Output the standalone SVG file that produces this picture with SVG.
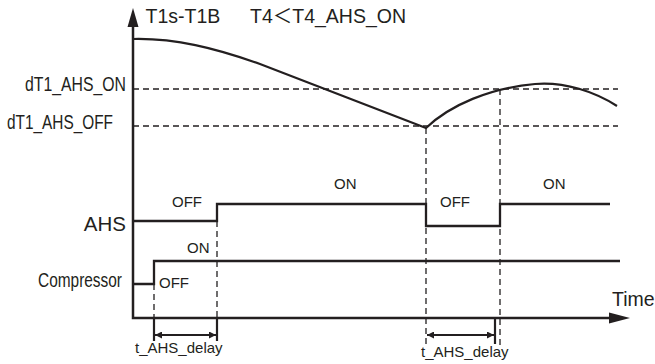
<svg xmlns="http://www.w3.org/2000/svg" width="655" height="364" viewBox="0 0 655 364">
<style>
text{font-family:"Liberation Sans",Arial,"Noto Sans CJK SC",sans-serif;fill:#231f20}
.big{font-size:19.5px}
.sm{font-size:15px}
.axis{stroke:#231f20;stroke-width:2.5;fill:none}
.sig{stroke:#231f20;stroke-width:2.3;fill:none}
.curve{stroke:#231f20;stroke-width:2.2;fill:none}
.dash{stroke:#231f20;stroke-width:1.3;stroke-dasharray:6,4;fill:none}
.tick{stroke:#231f20;stroke-width:2.2;fill:none}
.dim{stroke:#231f20;stroke-width:2;fill:none;marker-start:url(#ah);marker-end:url(#ah)}
</style>
<defs>
<marker id="ah" viewBox="0 0 10 10" refX="10" refY="5" markerWidth="9" markerHeight="7" markerUnits="userSpaceOnUse" orient="auto-start-reverse">
<path d="M0,0 L10,5 L0,10 z" fill="#231f20"/>
</marker>
</defs>
<rect width="655" height="364" fill="#fff"/>

<g id="connectors">
<path class="dash" d="M133,89 H618"/>
<path class="dash" d="M133,126 H618"/>
<path class="dash" d="M154,284 V318"/>
<path class="dash" d="M217,221 V318"/>
<path class="dash" d="M426,128 V345"/>
<path class="dash" d="M500,89 V345"/>
<path class="curve" d="M133,39 C175,38 215,48 260,64 L426,128 C450,105 490,88 535,84 C565,81.5 595,92 617,106"/>
<path class="sig" d="M133,221 H217 V204 H426 V226 H500 V204 H610"/>
<path class="sig" d="M133,284 H154 V261 H620"/>
<path class="tick" d="M154,318 V341 M217,318 V341 M495,318 V344"/>
<path class="dim" d="M155,335 H216"/>
<path class="dim" d="M427,335 H494"/>
</g>

<g id="axes">
<path class="axis" d="M133,24 V318 H612"/>
<path d="M133,8 L127.5,27 L138.5,27 z" fill="#231f20"/>
<path d="M630,318 L609,312.5 L609,323.5 z" fill="#231f20"/>
</g>

<g id="title">
<text class="big" y="23"><tspan x="145.5">T1s-T1B</tspan><tspan x="250">T4＜T4_AHS_ON</tspan></text>
</g>
<g id="label-on">
<text class="big" x="25" y="91" textLength="101" lengthAdjust="spacingAndGlyphs">dT1_AHS_ON</text>
</g>
<g id="label-off">
<text class="big" x="7" y="129" textLength="106" lengthAdjust="spacingAndGlyphs">dT1_AHS_OFF</text>
</g>
<g id="label-ahs">
<text x="126" y="231" font-size="20.5" text-anchor="end">AHS</text>
</g>
<g id="label-compressor">
<text x="38" y="287" font-size="20" textLength="84" lengthAdjust="spacingAndGlyphs">Compressor</text>
</g>
<g id="label-time">
<text class="big" x="612" y="306">Time</text>
</g>
<g id="state-labels">
<text class="sm" x="172" y="207">OFF</text>
<text class="sm" x="187" y="253">ON</text>
<text class="sm" x="159" y="288">OFF</text>
<text class="sm" x="334" y="189">ON</text>
<text class="sm" x="440" y="207">OFF</text>
<text class="sm" x="543" y="189">ON</text>
</g>
<g id="delay-labels">
<text class="sm" x="135" y="353">t_AHS_delay</text>
<text class="sm" x="421" y="357">t_AHS_delay</text>
</g>
</svg>
